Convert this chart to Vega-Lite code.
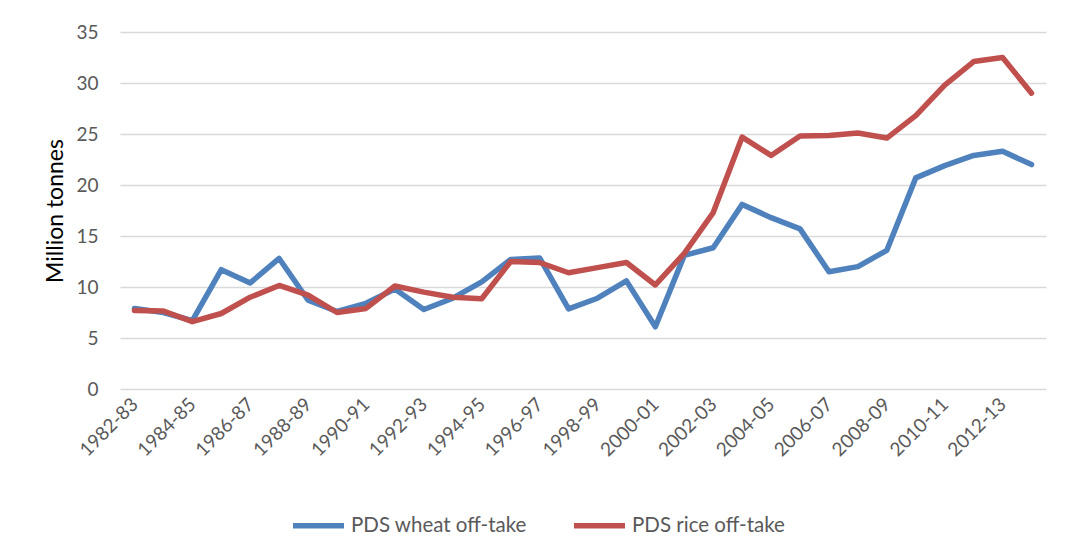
{
  "$schema": "https://vega.github.io/schema/vega-lite/v6.json",
  "autosize": {"type": "none"},
  "padding": {"left": 120, "top": 32, "right": 33, "bottom": 170},
  "width": 926,
  "height": 357,
  "background": "white",
  "config": {
    "view": {"stroke": null},
    "font": "Lato"
  },
  "data": {
    "values": [
      {"year": "1982-83", "series": "PDS wheat off-take", "value": 7.9},
      {"year": "1983-84", "series": "PDS wheat off-take", "value": 7.5},
      {"year": "1984-85", "series": "PDS wheat off-take", "value": 6.7},
      {"year": "1985-86", "series": "PDS wheat off-take", "value": 11.7},
      {"year": "1986-87", "series": "PDS wheat off-take", "value": 10.4},
      {"year": "1987-88", "series": "PDS wheat off-take", "value": 12.8},
      {"year": "1988-89", "series": "PDS wheat off-take", "value": 8.7},
      {"year": "1989-90", "series": "PDS wheat off-take", "value": 7.6},
      {"year": "1990-91", "series": "PDS wheat off-take", "value": 8.4},
      {"year": "1991-92", "series": "PDS wheat off-take", "value": 9.8},
      {"year": "1992-93", "series": "PDS wheat off-take", "value": 7.8},
      {"year": "1993-94", "series": "PDS wheat off-take", "value": 8.9},
      {"year": "1994-95", "series": "PDS wheat off-take", "value": 10.5},
      {"year": "1995-96", "series": "PDS wheat off-take", "value": 12.7},
      {"year": "1996-97", "series": "PDS wheat off-take", "value": 12.85},
      {"year": "1997-98", "series": "PDS wheat off-take", "value": 7.85},
      {"year": "1998-99", "series": "PDS wheat off-take", "value": 8.9},
      {"year": "1999-00", "series": "PDS wheat off-take", "value": 10.6},
      {"year": "2000-01", "series": "PDS wheat off-take", "value": 6.1},
      {"year": "2001-02", "series": "PDS wheat off-take", "value": 13.1},
      {"year": "2002-03", "series": "PDS wheat off-take", "value": 13.85},
      {"year": "2003-04", "series": "PDS wheat off-take", "value": 18.1},
      {"year": "2004-05", "series": "PDS wheat off-take", "value": 16.8},
      {"year": "2005-06", "series": "PDS wheat off-take", "value": 15.7},
      {"year": "2006-07", "series": "PDS wheat off-take", "value": 11.5},
      {"year": "2007-08", "series": "PDS wheat off-take", "value": 12.0},
      {"year": "2008-09", "series": "PDS wheat off-take", "value": 13.6},
      {"year": "2009-10", "series": "PDS wheat off-take", "value": 20.7},
      {"year": "2010-11", "series": "PDS wheat off-take", "value": 21.9},
      {"year": "2011-12", "series": "PDS wheat off-take", "value": 22.9},
      {"year": "2012-13", "series": "PDS wheat off-take", "value": 23.3},
      {"year": "2013-14", "series": "PDS wheat off-take", "value": 22.0},
      {"year": "1982-83", "series": "PDS rice off-take", "value": 7.7},
      {"year": "1983-84", "series": "PDS rice off-take", "value": 7.65},
      {"year": "1984-85", "series": "PDS rice off-take", "value": 6.6},
      {"year": "1985-86", "series": "PDS rice off-take", "value": 7.4},
      {"year": "1986-87", "series": "PDS rice off-take", "value": 9.0},
      {"year": "1987-88", "series": "PDS rice off-take", "value": 10.15},
      {"year": "1988-89", "series": "PDS rice off-take", "value": 9.2},
      {"year": "1989-90", "series": "PDS rice off-take", "value": 7.5},
      {"year": "1990-91", "series": "PDS rice off-take", "value": 7.9},
      {"year": "1991-92", "series": "PDS rice off-take", "value": 10.1},
      {"year": "1992-93", "series": "PDS rice off-take", "value": 9.5},
      {"year": "1993-94", "series": "PDS rice off-take", "value": 9.0},
      {"year": "1994-95", "series": "PDS rice off-take", "value": 8.85},
      {"year": "1995-96", "series": "PDS rice off-take", "value": 12.5},
      {"year": "1996-97", "series": "PDS rice off-take", "value": 12.4},
      {"year": "1997-98", "series": "PDS rice off-take", "value": 11.4},
      {"year": "1998-99", "series": "PDS rice off-take", "value": 11.9},
      {"year": "1999-00", "series": "PDS rice off-take", "value": 12.4},
      {"year": "2000-01", "series": "PDS rice off-take", "value": 10.2},
      {"year": "2001-02", "series": "PDS rice off-take", "value": 13.3},
      {"year": "2002-03", "series": "PDS rice off-take", "value": 17.3},
      {"year": "2003-04", "series": "PDS rice off-take", "value": 24.7},
      {"year": "2004-05", "series": "PDS rice off-take", "value": 22.9},
      {"year": "2005-06", "series": "PDS rice off-take", "value": 24.8},
      {"year": "2006-07", "series": "PDS rice off-take", "value": 24.85},
      {"year": "2007-08", "series": "PDS rice off-take", "value": 25.1},
      {"year": "2008-09", "series": "PDS rice off-take", "value": 24.6},
      {"year": "2009-10", "series": "PDS rice off-take", "value": 26.8},
      {"year": "2010-11", "series": "PDS rice off-take", "value": 29.8},
      {"year": "2011-12", "series": "PDS rice off-take", "value": 32.1},
      {"year": "2012-13", "series": "PDS rice off-take", "value": 32.5},
      {"year": "2013-14", "series": "PDS rice off-take", "value": 29.0}
    ]
  },
  "mark": {"type": "line", "strokeWidth": 5.5, "strokeCap": "round", "strokeJoin": "round"},
  "encoding": {
    "x": {
      "field": "year",
      "type": "ordinal",
      "scale": {"type": "point", "padding": 0.5},
      "axis": {
        "title": null,
        "values": ["1982-83", "1984-85", "1986-87", "1988-89", "1990-91", "1992-93", "1994-95", "1996-97", "1998-99", "2000-01", "2002-03", "2004-05", "2006-07", "2008-09", "2010-11", "2012-13"],
        "labelAngle": -45,
        "labelAlign": "right",
        "labelBaseline": "middle",
        "labelFontSize": 19,
        "labelColor": "#595959",
        "labelPadding": 12,
        "labelDx": 3,
        "ticks": false,
        "domain": false,
        "grid": false
      }
    },
    "y": {
      "field": "value",
      "type": "quantitative",
      "scale": {"domain": [0, 35], "nice": false},
      "axis": {
        "title": "Million tonnes",
        "titleFontSize": 23,
        "titleFontWeight": "normal",
        "titleColor": "#000000",
        "titlePadding": 8,
        "values": [0, 5, 10, 15, 20, 25, 30, 35],
        "labelFontSize": 19,
        "labelColor": "#595959",
        "labelPadding": 22,
        "ticks": false,
        "domain": false,
        "grid": true,
        "gridColor": "#D9D9D9",
        "gridWidth": 1.5
      }
    },
    "color": {
      "field": "series",
      "type": "nominal",
      "scale": {"domain": ["PDS wheat off-take", "PDS rice off-take"], "range": ["#4F81BD", "#C0504D"]},
      "sort": ["PDS wheat off-take", "PDS rice off-take"],
      "legend": {
        "title": null,
        "orient": "none",
        "direction": "horizontal",
        "legendX": 170,
        "legendY": 465,
        "symbolType": "stroke",
        "symbolSize": 2600,
        "symbolStrokeWidth": 5.5,
        "labelFontSize": 20.5,
        "labelLimit": 400,
        "labelColor": "#595959",
        "labelOffset": 4,
        "columnPadding": 36
      }
    }
  }
}
